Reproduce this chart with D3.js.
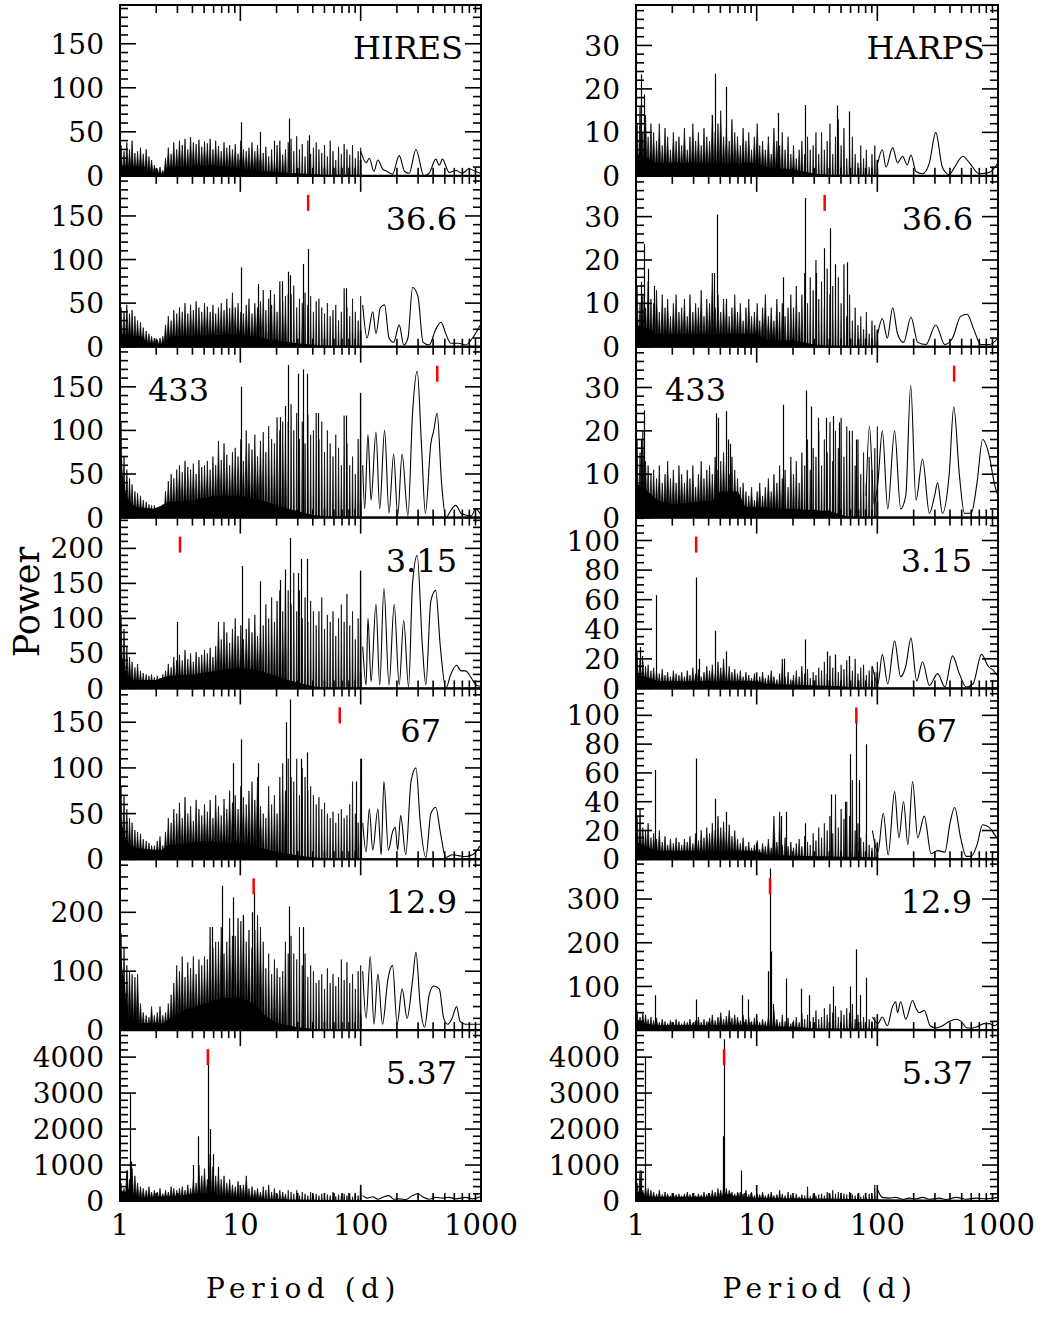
<!DOCTYPE html>
<html><head><meta charset="utf-8">
<script src="https://cdn.jsdelivr.net/npm/d3@7"></script>
<style>body{margin:0;background:#fff}svg{display:block}</style>
</head><body>
<svg id="chart" width="1045" height="1317"></svg>
<script>
// ---------- DATA ----------
const hiresLabels = ["HIRES","36.6","433","3.15","67","12.9","5.37"];
const harpsLabels = ["HARPS","36.6","433","3.15","67","12.9","5.37"];
const markPeriods = [null,36.6,433,3.15,67,12.9,5.37];
const hiresMax = [194,196,196,244,187,290,4750];
const harpsMax = [39.3,39.4,39.4,115.5,118.7,391,4750];
const hiresMajor = [50,50,50,50,50,100,1000];
const hiresMinor = [10,10,10,10,10,20,200];
const harpsMajor = [10,10,10,20,20,100,1000];
const harpsMinor = [2,2,2,5,5,20,200];
const xTickLabels = [1,10,100,1000];

// periods (d) of the sampled periodogram peaks, 1 - 100 d
const stemPeriods = [1.02,1.08,1.14,1.2,1.26,1.33,1.4,1.48,1.56,1.65,1.74,1.83,1.93,2.04,2.15,2.27,2.39,2.52,2.66,2.8,2.96,3.12,3.29,3.47,3.66,3.86,4.07,4.29,4.53,4.78,5.04,5.32,5.61,5.92,6.24,6.58,6.94,7.32,7.72,8.15,8.6,9.07,9.57,10.1,10.6,11.2,11.8,12.5,13.2,13.9,14.7,15.5,16.3,17.2,18.2,19.2,20.2,21.3,22.5,23.7,25,26.4,27.8,29.4,31,32.7,34.5,36.4,38.4,40.5,42.7,45,47.5,50.1,52.9,55.8,58.9,62.1,65.5,69.1,72.9,76.9,81.1,85.6,90.3,95.3,100];

// peak powers at stemPeriods, HIRES panels
const hiresStems = [
[35,28,38,30,40,26, 28,32,25,30,22,18, 12,8,10,6, 20,32,25,38,30, 40,35,42,30,44,38,36,41,33,39, 37,42,30,40,34,28,38,32,35,30, 36,25,40,30,28, 32,38,28,35,30,26,33, 22,30,18,35,40,24,30,38, 42,28,45,30,36,22,40,25,32,38, 30,26,35,22,40,28,18,33,25,36, 30,24,35,20,28,32],
[45,40,48,38,42,35, 30,28,22,18,15,12, 10,8,10,12, 25,35,30,42,38, 45,40,50,38,48,42,52,45,40,50, 46,40,48,38,45,50,42,55,44,62, 45,50,40,38,48,55,38,50,45,52, 65,42,55,48,60,40,75,52,58,60, 60,70,45,55,50,62,48,58,40,52, 55,45,38,50,35,42,48,30,40,67, 45,35,55,40,30,58],
[110,70,55,45,38,30, 28,25,20,18,15,14, 14,12,13,15, 30,42,50,45,55, 60,52,65,58,55,62,50,66,58,60, 65,55,70,60,88,66,85,72,60,75, 80,70,90,65,100,85,78,95,70,88, 98,75,105,90,85,115,100,110,95,110, 130,100,120,90,110,85,118,95,100,120, 90,110,75,100,85,70,95,80,60,117, 85,60,70,50,90,143],
[105,85,60,45,38,30, 35,25,22,20,18,20, 16,18,15,20, 25,35,30,45,40, 48,40,55,42,50,38,52,45,48,55, 50,58,45,60,95,70,95,80,65,85, 100,75,90,70,85,100,80,105,75,95, 90,120,100,130,95,125,140,110,150,140, 120,165,110,140,100,130,95,125,110,90, 110,130,85,105,95,110,75,100,120,95, 135,90,110,70,100,168],
[80,70,55,45,40,32, 30,28,22,20,18,15, 15,20,25,15, 30,45,40,55,50, 62,45,68,50,58,42,65,55,48,60, 52,65,45,70,58,48,66,55,75,62, 70,55,80,68,60,75,85,65,90,58, 50,45,80,60,70,50,90,105,75,110, 90,85,110,70,100,90,75,80,70,60, 68,55,62,50,45,52,40,50,55,45, 48,60,85,50,40,110],
[165,140,110,100,95,90, 95,45,30,25,22,40, 25,30,40,25, 30,45,60,80,110, 100,125,90,115,105,125,95,120,110,125, 120,175,140,150,150,175,130,150,190,160, 160,190,185,195,150,170,140,170,195,175, 150,105,130,95,120,105,90,100,150,130, 160,130,120,175,110,130,90,110,100,80, 85,95,70,105,80,95,75,90,120,85, 115,80,95,70,100,110],
[500,350,850,600,900,700, 500,400,350,300,400,250, 300,250,350,200, 300,250,400,350,300, 350,400,300,450,350,600,500,1000,700,900, 600,1300,950,700,800,600,700,500,600,450, 400,550,350,450,700,350,400,300,350,250, 400,300,450,250,350,200,300,250,200,300, 250,200,300,150,250,200,150,250,180,200, 150,200,120,180,150,250,130,180,150,200, 150,200,120,180,150,450]
];
// peak powers at stemPeriods, HARPS panels
const harpsStems = [
[12,16,10,14,9,12, 10,8,12,7,11,9,6,10,8,9, 7,11,6,9,12,8,10,7,11,9, 8,14,10,12,15,9,11,8,13,10, 9,7,11,8,10,6,9,12,7,8, 6,9,5,11,8,7,10,6,9,5, 7,4,6,8,5,9,6,7,10,5, 10,6,8,12,5,9,13,7,11,4, 6,9,5,3,7,4,6,2,5,7,3],
[14,10,12,9,15,11, 10,13,8,12,9,11,7,10,12,8, 9,11,7,12,8,10,9,13,7,11, 10,17,9,12,8,11,10,7,9,12, 8,10,6,9,11,7,8,10,6,9, 12,7,9,6,11,8,10,7,9,12, 9,14,8,12,17,10,16,13,20,11, 15,9,18,12,14,8,16,10,19,7, 12,6,9,5,7,4,8,3,6,5,4],
[18,15,20,13,12,10, 11,9,12,8,10,13,9,11,8,12, 10,8,11,9,12,7,10,13,9,11, 12,10,14,11,13,15,12,10,14,11, 9,7,8,6,5,7,4,6,8,5, 7,9,6,10,8,12,9,11,7,14, 10,13,8,15,12,18,11,16,14,20, 12,18,15,22,13,20,16,23,14,21, 17,20,12,18,10,15,8,14,11,16,21],
[25,20,18,15,16,12, 14,12,10,13,9,11,8,12,10,9, 11,8,12,9,14,10,13,8,11,15, 12,16,10,18,14,20,12,15,11,13, 10,12,8,11,9,7,10,6,8,11, 7,9,12,8,6,10,20,8,11,6, 9,12,8,15,10,13,7,11,9,14, 12,18,10,22,14,20,11,16,13,19, 15,12,20,10,14,16,9,12,15,11,18],
[30,35,22,20,25,15, 18,14,20,12,16,10,14,11,15,12, 10,14,12,16,11,18,13,20,15,22, 18,25,20,30,22,26,19,24,16,20, 14,11,15,9,12,8,10,13,7,11, 9,14,8,30,12,33,10,15,9,12, 8,11,14,9,16,12,10,18,13,22, 15,25,20,30,18,45,22,35,28,40, 30,55,20,25,15,12,18,10,8,14,12],
[45,30,40,35,25,30, 22,28,18,25,20,15,22,18,25,20, 15,20,18,25,15,22,30,18,25,20, 28,35,22,30,40,25,32,45,28,35, 30,22,35,25,30,20,28,22,18,25, 20,30,15,45,25,18,35,20,28,15, 22,30,18,40,25,35,20,30,45,25, 30,50,35,60,40,55,30,45,35,50, 40,60,25,35,20,30,15,25,20,30,25],
[500,850,300,400,350,300, 250,200,300,180,250,200,150,220,180,200, 150,200,250,180,220,150,200,170,250,180, 220,300,250,350,300,400,350,300,250,200, 250,250,200,300,180,250,150,200,180,250, 150,200,250,150,180,300,200,150,250,180, 150,200,120,180,150,400,130,200,150,180, 200,150,250,180,300,200,250,150,200,180, 250,180,150,200,120,150,100,200,150,450,150]
];

// prominent peaks [period, power]
const hiresSpikes = [
[[10.2,61],[14.5,50],[19,40],[25.6,65],[37,46]],
[[10.1,91],[14,72],[17.5,65],[22,75],[24.7,86],[26,82],[33,95],[36.3,112],[75,67]],
[[10.1,150],[21.2,115],[23.5,128],[25,175],[29.9,165],[33,170],[36.1,165],[44,120],[75.5,117],[98,143]],
[[2.95,95],[10.3,175],[14.5,153],[21.2,155],[23.5,170],[26,215],[29.9,165],[32.2,185],[36.1,185],[98,168]],
[[8.7,105],[10.1,131],[14.1,105],[24,150],[26,175],[31.8,110],[36.1,117],[92,85],[100,110]],
[[5.8,175],[7.0,245],[8.7,225],[10.6,195],[12.4,200],[12.9,235],[25.6,210],[33,175]],
[[1.15,850],[1.2,3000],[1.23,1100],[4.05,1000],[4.49,1800],[5.37,4100],[5.57,2000],[5.93,1300],[6.5,950]]
];
const harpsSpikes = [
[[1.1,23.3],[1.17,18.7],[4.3,14],[4.5,23.5],[5.6,20.5],[15,14.5],[25,16.3],[46,16.2],[58,14.8]],
[[1.1,15],[1.17,23.7],[1.25,18],[1.4,14],[4.4,17],[4.65,30.5],[5.6,11],[16.5,16],[25,34.3],[31,17],[36,22.7],[40.5,27.3],[45,19],[56,19.5]],
[[1.1,18],[1.16,24.7],[4.6,24],[4.75,23],[5.6,24.5],[5.8,18],[6.0,17],[16.4,26],[25.6,29.3],[28.4,25.6],[32.2,23],[37.6,23],[42.6,23.4],[48.4,22],[58.6,20],[66.6,18]],
[[1.07,28],[1.13,22],[1.46,63],[3.12,75],[3.3,20],[4.55,39],[5.6,25],[17,20],[25,33],[38,25],[45,23],[58,22]],
[[1.45,62],[3.12,70],[4.55,42],[5.6,33],[16,30],[17.5,33],[25,25],[41.6,45],[53.6,40],[59.3,73],[66,100],[71,55],[80.5,80]],
[[1.45,80],[3.12,70],[7.6,80],[8.5,70],[12.3,135],[12.9,370],[13.2,180],[13.6,60],[17.5,118],[23.5,95],[27,80],[42.6,100],[59.3,100],[66.6,185],[72,80],[80.5,120]],
[[1.1,850],[1.18,4000],[5.25,1800],[5.37,4500],[7.46,850]]
];

// smooth long-period part [period, power]
const hiresCurve = [
[[100,28],[111,15],[118,20],[129,5],[139,18],[152,8],[166,5],[184,2],[209,23],[232,5],[253,3],[288,30],[335,0],[371,3],[421,19],[450,12],[478,19],[543,4],[617,6],[700,3],[796,8],[904,5],[987,3]],
[[104,48],[113,10],[126,40],[134,15],[146,45],[158,48],[172,10],[188,5],[209,25],[228,2],[247,10],[270,68],[299,58],[330,5],[371,2],[421,20],[466,28],[510,15],[560,4],[650,4],[745,2],[850,10],[987,25]],
[[104,60],[108,10],[115,95],[122,20],[134,98],[144,10],[158,100],[172,5],[188,73],[203,2],[221,73],[247,2],[270,120],[295,168],[321,80],[345,5],[383,85],[405,100],[432,120],[470,40],[510,0],[560,8],[617,14],[683,5],[745,3],[830,2],[904,10],[987,4]],
[[104,60],[111,5],[115,100],[122,10],[134,120],[144,5],[156,143],[172,5],[190,120],[209,5],[228,97],[250,2],[270,150],[295,190],[326,60],[348,5],[383,125],[420,140],[459,60],[510,0],[560,20],[627,33],[683,25],[745,25],[830,15],[904,5],[987,3]],
[[104,40],[111,8],[118,55],[126,10],[139,55],[148,5],[156,85],[170,10],[184,30],[194,35],[203,10],[215,48],[237,5],[262,85],[288,100],[313,40],[348,2],[383,50],[421,57],[459,30],[510,2],[580,5],[650,4],[745,3],[850,5],[987,15]],
[[104,100],[111,20],[120,125],[129,10],[139,95],[152,10],[168,85],[184,110],[201,10],[221,70],[243,20],[270,85],[288,132],[313,40],[340,5],[371,60],[405,75],[450,70],[490,20],[530,10],[575,20],[627,40],[670,15],[745,10],[850,10],[987,10]],
[[104,150],[113,80],[126,120],[139,50],[152,100],[172,150],[188,50],[209,60],[237,40],[270,150],[299,200],[326,120],[371,50],[421,100],[478,80],[543,100],[617,60],[745,100],[850,60],[987,120]]
];
const harpsCurve = [
[[101,3],[110,6],[118,2],[134,6.5],[147,3],[162,4.5],[177,2.5],[190,4.8],[209,1],[237,0.5],[270,3],[305,10],[346,2],[394,0.3],[437,2],[511,4.5],[580,3],[700,0.5],[850,0.8],[1000,3]],
[[101,3],[110,6.5],[121,2],[134,9],[147,3],[165,1],[190,6.8],[216,1],[253,0.5],[305,5],[363,0.5],[420,2],[490,7],[555,7.5],[630,4],[720,0.5],[850,0.5],[1000,2]],
[[80.6,5],[86,21],[94,3],[101,8],[110,20],[122,2],[139,20],[156,2],[172,5],[189,30.5],[209,4],[237,13.5],[270,1],[298,5],[316,8],[346,1],[394,10],[430,25.5],[478,10],[527,1],[600,1],[670,8],[745,18],[850,14],[930,8],[1000,5]],
[[91,15],[101,3],[110,23],[122,3],[139,32],[156,8],[172,15],[190,34],[212,5],[237,18],[270,2],[316,10],[363,1],[420,22],[478,10],[545,1],[620,3],[730,23],[830,15],[920,12],[1000,8]],
[[91,20],[101,5],[112,32],[123,3],[139,47],[151,15],[165,40],[179,10],[196,54],[216,15],[245,30],[279,4],[316,6],[363,5],[400,25],[437,36],[490,15],[545,2],[600,2],[670,10],[745,24],[850,22],[940,17],[1000,14]],
[[91,30],[101,15],[110,30],[121,10],[134,55],[142,65],[147,40],[156,65],[172,25],[196,68],[209,50],[223,40],[245,45],[274,10],[305,5],[346,10],[394,20],[450,25],[495,20],[555,5],[620,5],[700,10],[770,15],[850,15],[930,10],[1000,15]],
[[101,300],[110,100],[126,80],[142,100],[162,50],[184,80],[209,60],[237,100],[270,50],[326,80],[370,40],[450,100],[545,50],[650,80],[800,60],[1000,100]]
];

// solid (unresolved) floor of the dense part: [period, level]
const hiresBand = [
[[1,12],[1.6,10],[1.75,3],[2.3,2],[2.5,10],[6,12],[10,8],[20,4],[40,2],[60,0]],
[[1,15],[1.5,12],[1.7,4],[2.4,3],[2.6,12],[10,14],[18,8],[30,4],[60,0]],
[[1,90],[1.05,50],[1.1,30],[1.2,18],[1.35,12],[1.9,10],[2.1,12],[2.5,18],[4,20],[6,25],[10,25],[15,20],[25,10],[40,3],[60,0]],
[[1,80],[1.03,50],[1.08,30],[1.15,20],[1.3,12],[2,12],[2.5,18],[4,20],[6,25],[10,30],[15,25],[25,12],[40,3],[60,0]],
[[1,60],[1.03,40],[1.1,25],[1.2,15],[1.4,12],[2.2,10],[2.5,15],[5,20],[10,18],[20,8],[35,3],[60,0]],
[[1,140],[1.05,100],[1.1,70],[1.15,30],[1.2,12],[2.3,12],[2.6,20],[3.5,35],[5,45],[7,55],[10,55],[13,45],[16,25],[20,12],[30,5],[50,0]],
[[1,300],[1.1,250],[1.2,350],[1.3,180],[1.5,100],[2.5,130],[3.5,170],[4.5,220],[6,200],[8,130],[10,100],[15,60],[25,40],[50,25],[100,15],[1000,8]]
];
const harpsBand = [
[[1,5],[1.3,4],[1.4,3],[10,3],[12,2],[20,1.5],[30,0.5],[50,0]],
[[1,5],[1.3,4],[1.4,3],[10,3],[12,1.5],[20,1.5],[30,0.5],[50,0]],
[[1,8],[1.25,6],[1.5,4],[2,3],[4.3,4],[5,6],[7,6],[8,2.5],[20,2],[40,1.5],[60,0]],
[[1,10],[1.3,7],[1.5,5],[10,5],[12,3],[20,2.5],[50,1.5],[80,0]],
[[1,12],[1.3,8],[1.5,6],[10,6],[12,3],[20,2.5],[100,1.5]],
[[1,25],[1.2,15],[1.4,12],[10,12],[13,8],[20,8],[30,4],[100,4],[1000,2]],
[[1,250],[1.1,250],[1.15,180],[1.3,120],[5,120],[5.5,200],[7,120],[10,80],[30,70],[100,50],[1000,25]]
];

// ---------- DRAW ----------
const svg = d3.select("#chart");
const FONT = "'DejaVu Serif', 'Liberation Serif', serif";
const top0 = 5, bottom = 1201, nRows = 7, ph = (bottom - top0) / nRows;

const cols = [
  {x0:120, x1:481, labels:hiresLabels, max:hiresMax, major:hiresMajor, minor:hiresMinor,
   stems:hiresStems, spikes:hiresSpikes, curve:hiresCurve, band:hiresBand,
   lab:[{a:"end",o:18},{a:"end",o:24},{a:"start",o:28},{a:"end",o:24},{a:"end",o:40},{a:"end",o:24},{a:"end",o:24}]},
  {x0:636, x1:998, labels:harpsLabels, max:harpsMax, major:harpsMajor, minor:harpsMinor,
   stems:harpsStems, spikes:harpsSpikes, curve:harpsCurve, band:harpsBand,
   lab:[{a:"end",o:13},{a:"end",o:25},{a:"start",o:29},{a:"end",o:26},{a:"end",o:41},{a:"end",o:26},{a:"end",o:25}]}
];

// wedge half-width (px): unresolved peaks crowd together at short periods
const wedgeHalf = p => p < 15 ? 1.6 : (p < 25 ? 1.1 : 0.6);

cols.forEach((c, ci) => {
  const x = d3.scaleLog().domain([1, 1000]).range([c.x0, c.x1]);
  for (let r = 0; r < nRows; r++) {
    const t = top0 + r * ph, b = t + ph;
    const y = d3.scaleLinear().domain([0, c.max[r]]).range([b, t]);
    const g = svg.append("g");
    const cid = `clip-${ci}-${r}`;
    svg.append("clipPath").attr("id", cid).append("rect")
      .attr("x", c.x0).attr("y", t).attr("width", c.x1 - c.x0).attr("height", ph);
    const dg = g.append("g").attr("clip-path", `url(#${cid})`);

    // solid floor
    dg.append("path").datum(c.band[r])
      .attr("d", d3.area().x(d => x(d[0])).y0(y(0)).y1(d => y(d[1])))
      .attr("fill", "#000");

    // dense peaks drawn as narrow wedges
    const y0 = y(0);
    const pts = stemPeriods.map((p, i) => [p, c.stems[r][i]]).filter(d => d[1] != null);
    const wedge = pts.map(d => {
      const xx = x(d[0]), yy = y(d[1]), w = wedgeHalf(d[0]);
      return `M${xx - w},${y0}L${xx},${yy}L${xx + w},${y0}Z`;
    }).join("");
    dg.append("path").attr("d", wedge).attr("fill", "#000")
      .attr("stroke", "#000").attr("stroke-width", 0.7).attr("stroke-linejoin", "miter");

    // prominent peaks as thin lines
    const sp = c.spikes[r].map(d => `M${Math.round(x(d[0])) + 0.5},${y0}V${y(d[1])}`).join("");
    dg.append("path").attr("d", sp).attr("stroke", "#000").attr("stroke-width", 1.2)
      .attr("fill", "none");

    // smooth long-period curve
    dg.append("path").datum(c.curve[r])
      .attr("d", d3.line().x(d => x(d[0])).y(d => y(d[1])).curve(d3.curveMonotoneX))
      .attr("fill", "none").attr("stroke", "#000").attr("stroke-width", 1.1);

    // red mark
    if (markPeriods[r] != null) {
      g.append("line").attr("x1", x(markPeriods[r])).attr("x2", x(markPeriods[r]))
        .attr("y1", t + 19).attr("y2", t + 35).attr("stroke", "#f00").attr("stroke-width", 2.5);
    }

    // ticks
    const tk = g.append("g").attr("stroke", "#000").attr("stroke-width", 1.6);
    const maj = c.major[r], mn = c.minor[r];
    d3.range(0, c.max[r] + 1e-9, mn).forEach(v => {
      const isMaj = Math.abs(v / maj - Math.round(v / maj)) < 1e-6;
      const len = isMaj ? 16 : 8, yy = y(v);
      tk.append("line").attr("x1", c.x0).attr("x2", c.x0 + len).attr("y1", yy).attr("y2", yy);
      tk.append("line").attr("x1", c.x1).attr("x2", c.x1 - len).attr("y1", yy).attr("y2", yy);
      if (isMaj) {
        g.append("text").attr("x", c.x0 - 16).attr("y", yy).attr("dy", "0.36em")
          .attr("text-anchor", "end").attr("font-family", FONT).attr("font-size", 28)
          .text(d3.format("d")(v));
      }
    });
    x.ticks().forEach(v => {
      const lg = Math.log10(v);
      const isMaj = Math.abs(lg - Math.round(lg)) < 1e-6;
      const len = isMaj ? 16 : 8, xx = x(v);
      tk.append("line").attr("x1", xx).attr("x2", xx).attr("y1", t).attr("y2", t + len);
      tk.append("line").attr("x1", xx).attr("x2", xx).attr("y1", b).attr("y2", b - len);
    });

    // frame
    g.append("rect").attr("x", c.x0).attr("y", t).attr("width", c.x1 - c.x0).attr("height", ph)
      .attr("fill", "none").attr("stroke", "#000").attr("stroke-width", 2);

    // panel label
    const L = c.lab[r];
    g.append("text")
      .attr("x", L.a === "end" ? c.x1 - L.o : c.x0 + L.o)
      .attr("y", t + 54).attr("text-anchor", L.a)
      .attr("font-family", FONT).attr("font-size", 32).text(c.labels[r]);
  }

  // x tick labels
  xTickLabels.forEach(v => {
    svg.append("text").attr("x", x(v)).attr("y", 1235).attr("text-anchor", "middle")
      .attr("font-family", FONT).attr("font-size", 29).text(v);
  });
  svg.append("text").attr("x", (c.x0 + c.x1) / 2 + 3).attr("y", 1298).attr("text-anchor", "middle")
    .attr("font-family", FONT).attr("font-size", 28).attr("letter-spacing", 5.5).text("Period (d)");
});

svg.append("text").attr("transform", "translate(39,602) rotate(-90)").attr("text-anchor", "middle")
  .attr("font-family", FONT).attr("font-size", 35).text("Power");
</script>
</body></html>
